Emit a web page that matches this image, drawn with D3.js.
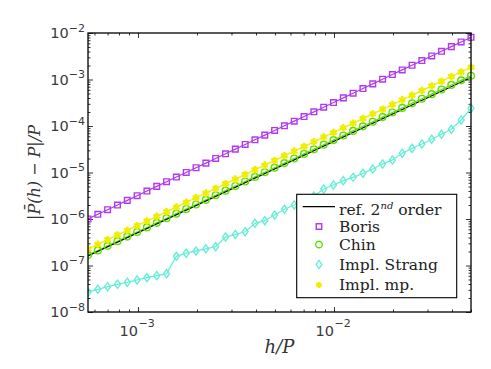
<!DOCTYPE html>
<html><head><meta charset="utf-8">
<script src="https://cdn.jsdelivr.net/npm/d3@7"></script>
<style>body{margin:0;background:#fff}</style>
</head><body>
<svg id="c" width="491" height="369"></svg>
<script>
const hP = [5.56e-4,6.24e-4,7.00e-4,7.86e-4,8.82e-4,9.90e-4,1.111e-3,1.247e-3,1.399e-3,1.570e-3,
  1.762e-3,1.978e-3,2.220e-3,2.491e-3,2.796e-3,3.138e-3,3.522e-3,3.952e-3,4.436e-3,4.978e-3,
  5.585e-3,6.268e-3,7.035e-3,7.895e-3,8.860e-3,9.943e-3,1.116e-2,1.252e-2,1.405e-2,1.577e-2,
  1.770e-2,1.986e-2,2.229e-2,2.502e-2,2.808e-2,3.151e-2,3.536e-2,3.969e-2,4.454e-2,5.00e-2];
const boris = [1.00e-6,1.26e-6,1.586e-6,1.998e-6,2.516e-6,3.169e-6,3.991e-6,5.027e-6,6.331e-6,7.974e-6,
  1.004e-5,1.265e-5,1.593e-5,2.007e-5,2.527e-5,3.183e-5,4.009e-5,5.05e-5,6.36e-5,8.01e-5,
  1.009e-4,1.271e-4,1.60e-4,2.016e-4,2.539e-4,3.198e-4,4.028e-4,5.073e-4,6.389e-4,8.05e-4,
  1.014e-3,1.277e-3,1.608e-3,2.025e-3,2.55e-3,3.21e-3,4.05e-3,5.10e-3,6.42e-3,8.09e-3];
const chin = [1.68e-7,2.11e-7,2.65e-7,3.33e-7,4.18e-7,5.24e-7,6.58e-7,8.27e-7,1.038e-6,1.303e-6,
  1.636e-6,2.054e-6,2.58e-6,3.24e-6,4.07e-6,5.11e-6,6.41e-6,8.05e-6,1.011e-5,1.269e-5,
  1.594e-5,2.001e-5,2.513e-5,3.155e-5,3.962e-5,4.974e-5,6.246e-5,7.842e-5,9.846e-5,1.236e-4,
  1.552e-4,1.949e-4,2.447e-4,3.073e-4,3.858e-4,4.844e-4,6.083e-4,7.637e-4,9.589e-4,1.204e-3];
const strang = [2.69e-8,3.08e-8,3.50e-8,3.94e-8,4.35e-8,4.88e-8,5.47e-8,6.04e-8,6.67e-8,1.58e-7,
  1.84e-7,2.05e-7,2.29e-7,2.54e-7,4.10e-7,4.65e-7,5.31e-7,8.09e-7,9.19e-7,1.22e-6,
  1.62e-6,2.00e-6,2.44e-6,3.13e-6,4.42e-6,5.38e-6,6.67e-6,7.88e-6,9.61e-6,1.19e-5,
  1.52e-5,1.86e-5,2.59e-5,3.31e-5,4.10e-5,5.18e-5,6.64e-5,8.49e-5,1.35e-4,2.40e-4];
const implMp = [2.26e-7,2.85e-7,3.59e-7,4.53e-7,5.70e-7,7.18e-7,9.04e-7,1.139e-6,1.434e-6,1.806e-6,
  2.275e-6,2.865e-6,3.609e-6,4.545e-6,5.725e-6,7.21e-6,9.08e-6,1.144e-5,1.441e-5,1.815e-5,
  2.286e-5,2.879e-5,3.626e-5,4.567e-5,5.752e-5,7.245e-5,9.125e-5,1.149e-4,1.447e-4,1.823e-4,
  2.296e-4,2.892e-4,3.642e-4,4.587e-4,5.778e-4,7.277e-4,9.165e-4,1.154e-3,1.454e-3,1.831e-3];
const refX = [5.56e-4, 5.0e-2];
const refY = [1.6e-7, 1.1e-3];
const xMajor = [1e-3, 1e-2];
const xMajorExp = ["\u22123", "\u22122"];
const yMajor = [1e-8, 1e-7, 1e-6, 1e-5, 1e-4, 1e-3, 1e-2];
const yMajorExp = ["\u22128", "\u22127", "\u22126", "\u22125", "\u22124", "\u22123", "\u22122"];
const legendLabels = ["ref. 2", "Boris", "Chin", "Impl. Strang", "Impl. mp."];
const xLabel = "h/P";
const yLabel = "|P\u0304(h) \u2212 P|/P";

const L = 88, R = 471, T = 33, B = 312;
const svg = d3.select("#c");
const x = d3.scaleLog().domain([hP[0], hP[hP.length - 1]]).range([L, R]);
const y = d3.scaleLog().domain([1e-8, 1e-2]).range([B, T]);

const colors = { boris: "#b23aee", chin: "#5ee000", strang: "#66eed8", mp: "#eeee00" };

svg.append("defs").append("clipPath").attr("id", "pc")
  .append("rect").attr("x", L).attr("y", T - 6).attr("width", R - L + 6).attr("height", B - T + 6);

const isMajor = v => Math.abs(Math.log10(v) - Math.round(Math.log10(v))) < 1e-6;
const xMinor = x.ticks().filter(v => !isMajor(v));
const yMinor = y.ticks().filter(v => !isMajor(v));
function ax(gen, vals, len, tr) {
  const g = svg.append("g").attr("transform", tr)
    .call(gen.tickValues(vals).tickSize(-len).tickFormat(""));
  g.select(".domain").remove();
  g.selectAll("line").attr("stroke", "#000").attr("stroke-width", 0.8);
}
ax(d3.axisBottom(x), xMajor, 5, `translate(0,${B})`);
ax(d3.axisBottom(x), xMinor, 2.5, `translate(0,${B})`);
ax(d3.axisTop(x), xMajor, 5, `translate(0,${T})`);
ax(d3.axisTop(x), xMinor, 2.5, `translate(0,${T})`);
ax(d3.axisLeft(y), yMajor, 5, `translate(${L},0)`);
ax(d3.axisLeft(y), yMinor, 2.5, `translate(${L},0)`);
ax(d3.axisRight(y), yMajor, 5, `translate(${R},0)`);
ax(d3.axisRight(y), yMinor, 2.5, `translate(${R},0)`);

const tickFont = "'DejaVu Sans', sans-serif";
const tickCol = "#3a3a3a";
yMajor.forEach((v, i) => {
  const t = svg.append("text").attr("x", L - 3).attr("y", y(v) + 5)
    .attr("text-anchor", "end").attr("font-family", tickFont).attr("fill", tickCol).attr("font-size", 14.5);
  t.append("tspan").text("10");
  t.append("tspan").attr("dy", -6.5).attr("font-size", 11).text(yMajorExp[i]);
});
xMajor.forEach((v, i) => {
  svg.append("text").attr("x", x(v)).attr("y", 335.5).attr("text-anchor", "end")
    .attr("font-family", tickFont).attr("fill", tickCol).attr("font-size", 14.5).text("10");
  svg.append("text").attr("x", x(v) + 0.5).attr("y", 327).attr("text-anchor", "start")
    .attr("font-family", tickFont).attr("fill", tickCol).attr("font-size", 11).text(xMajorExp[i]);
});

svg.append("text").attr("x", (L + R) / 2).attr("y", 353).attr("text-anchor", "middle")
  .attr("font-family", "'DejaVu Serif', serif").attr("font-style", "italic").attr("font-size", 18)
  .attr("fill", "#333").text(xLabel);
svg.append("text").attr("transform", `translate(40,${(T + B) / 2}) rotate(-90)`)
  .attr("text-anchor", "middle").attr("font-family", "'DejaVu Serif', serif")
  .attr("font-style", "italic").attr("font-size", 16).attr("fill", "#333").text(yLabel);

const plot = svg.append("g").attr("clip-path", "url(#pc)");
const line = d3.line().x(d => x(d[0])).y(d => y(d[1]));
function series(vals, color, w) {
  const pts = hP.map((h, i) => [h, vals[i]]);
  plot.append("path").datum(pts).attr("d", line).attr("fill", "none")
    .attr("stroke", color).attr("stroke-width", w);
  return pts;
}
const borisPts = series(boris, colors.boris, 1.2);
const chinPts = series(chin, colors.chin, 1.2);
plot.append("path").datum(refX.map((h, i) => [h, refY[i]])).attr("d", line)
  .attr("fill", "none").attr("stroke", "#000").attr("stroke-width", 1.2);
const strangPts = series(strang, colors.strang, 1.3);
const mpPts = series(implMp, colors.mp, 1.3);

function markers(pts, type, size, color, sw) {
  plot.selectAll(null).data(pts).enter().append("path")
    .attr("transform", d => `translate(${x(d[0])},${y(d[1])})`)
    .attr("d", d3.symbol().type(type).size(size))
    .attr("fill", "none").attr("stroke", color).attr("stroke-width", sw);
}
const diamond = { draw(ctx, size) { const h = Math.sqrt(size) * 0.62, w = h * 0.72;
  ctx.moveTo(0, -h); ctx.lineTo(w, 0); ctx.lineTo(0, h); ctx.lineTo(-w, 0); ctx.closePath(); } };
markers(borisPts, d3.symbolSquare, 32, colors.boris, 1.4);
markers(chinPts, d3.symbolCircle, 36, colors.chin, 1.4);
markers(strangPts, diamond, 44, colors.strang, 1.4);
markers(mpPts, d3.symbolAsterisk, 40, colors.mp, 2.4);

svg.append("rect").attr("x", L).attr("y", T).attr("width", R - L).attr("height", B - T)
  .attr("fill", "none").attr("stroke", "#000").attr("stroke-width", 1.3);

const lg = svg.append("g");
lg.append("rect").attr("x", 296.7).attr("y", 194.3).attr("width", 160).attr("height", 103.4)
  .attr("fill", "#fff").attr("stroke", "#000").attr("stroke-width", 1.1);
const rowsY = [214.5, 232, 250, 269.5, 290];
const markY = [206.7, 226.5, 244.5, 264.5, 285];
const lf = "'DejaVu Serif', serif";
rowsY.forEach((yy, i) => {
  const t = lg.append("text").attr("x", 339).attr("y", yy).attr("font-family", lf)
    .attr("font-size", 15.5).attr("fill", "#222");
  t.append("tspan").text(legendLabels[i]);
  if (i === 0) {
    t.append("tspan").attr("dy", -5.5).attr("font-size", 10).attr("font-style", "italic").text("nd");
    t.append("tspan").attr("dy", 5.5).text(" order");
  }
});
lg.append("line").attr("x1", 302.7).attr("x2", 335).attr("y1", markY[0]).attr("y2", markY[0])
  .attr("stroke", "#000").attr("stroke-width", 1.2);
function lmark(type, size, color, sw, yy) {
  lg.append("path").attr("transform", `translate(319,${yy})`)
    .attr("d", d3.symbol().type(type).size(size)).attr("fill", "none")
    .attr("stroke", color).attr("stroke-width", sw);
}
lmark(d3.symbolSquare, 30, colors.boris, 1.4, markY[1]);
lmark(d3.symbolCircle, 34, colors.chin, 1.4, markY[2]);
lmark(diamond, 42, colors.strang, 1.3, markY[3]);
lmark(d3.symbolAsterisk, 26, colors.mp, 2.2, markY[4]);
</script>
</body></html>
